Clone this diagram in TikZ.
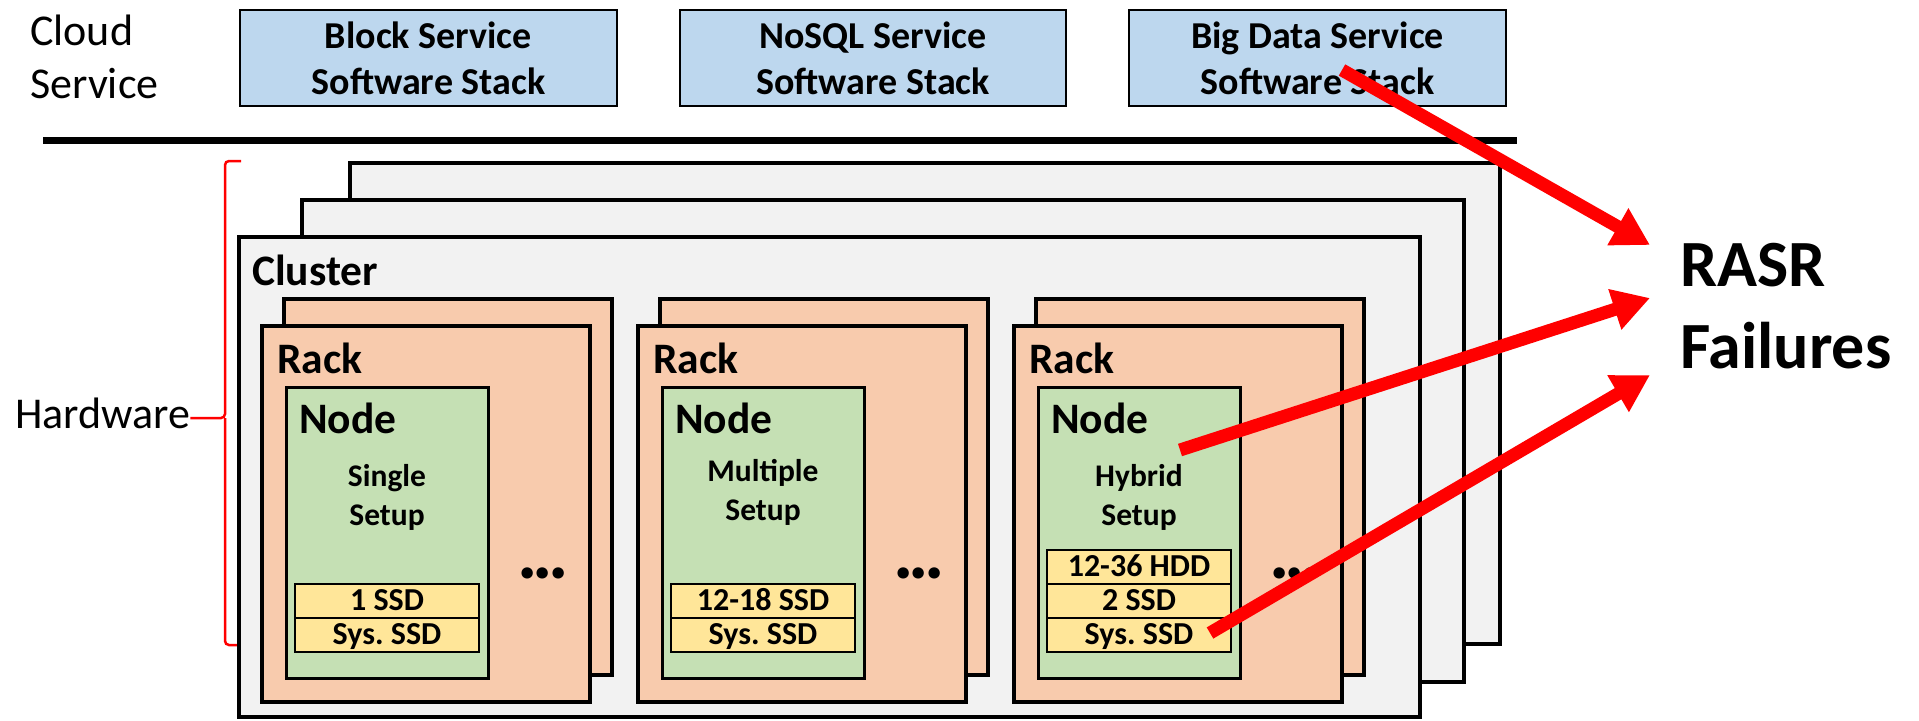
\documentclass[tikz,border=0pt]{standalone}
\usepackage{fontspec}
\setmainfont{Carlito}
\usetikzlibrary{arrows.meta}
\definecolor{svcblue}{HTML}{BDD7EE}
\definecolor{clgray}{HTML}{F2F2F2}
\definecolor{rackor}{HTML}{F8CBAD}
\definecolor{nodegr}{HTML}{C5E0B4}
\definecolor{diskyl}{HTML}{FFE699}
\definecolor{arrred}{HTML}{FF0000}
\begin{document}
\frenchspacing
\begin{tikzpicture}[x=1pt,y=-1pt,
  box/.style={draw=black, inner sep=0pt, outer sep=0pt, anchor=north west},
  svcbox/.style={box, fill=svcblue, line width=2.8pt, minimum height=96pt, align=center, font=\fontsize{38}{46}\selectfont\bfseries},
  clbox/.style={box, fill=clgray, line width=4pt},
  rackbox/.style={box, fill=rackor, line width=4pt, minimum width=328pt, minimum height=376pt},
  hostbox/.style={box, fill=nodegr, line width=3pt, minimum width=202pt, minimum height=291pt},
  diskbox/.style={box, fill=diskyl, line width=2pt, minimum width=184pt, minimum height=34pt, text height=22pt, text depth=4pt, font=\fontsize{32}{32}\selectfont\bfseries},
  plainlbl/.style={inner sep=0pt, anchor=base west, font=\fontsize{44}{53}\selectfont},
  biglbl/.style={inner sep=0pt, anchor=base west, font=\fontsize{43.5}{43.5}\selectfont\bfseries},
  setuplbl/.style={inner sep=0pt, anchor=base, font=\fontsize{31.5}{31.5}\selectfont\bfseries},
  dotslbl/.style={inner sep=0pt, font=\fontsize{76}{76}\selectfont\bfseries},
  rasrlbl/.style={inner sep=0pt, anchor=base west, font=\fontsize{66}{66}\selectfont\bfseries},
  redarrow/.style={draw=arrred, line width=13pt, -{Triangle[length=37pt,width=40pt]}},
  bracestyle/.style={draw=arrred, line width=2.5pt, rounded corners=4pt}
]
\useasboundingbox (0,0) rectangle (1919,720);

% Cloud service row
\node[plainlbl] (cloud1) at (30,45) {Cloud};
\node[plainlbl] (cloud2) at (30,98) {Service};
\node[svcbox, minimum width=377pt] (block) at (240,10) {Block Service\\Software Stack};
\node[svcbox, minimum width=386pt] (nosql) at (680,10) {NoSQL Service\\Software Stack};
\node[svcbox, minimum width=377pt] (bigdata) at (1129,10) {Big Data Service\\Software Stack};

% separator
\coordinate (sepL) at (43,140);
\coordinate (sepR) at (1517,140);
\draw[line width=7pt] (sepL) -- (sepR);

% Hardware brace
\node[plainlbl] (hw) at (15,428) {Hardware};
\coordinate (brT) at (241,161);
\coordinate (brB) at (241,645);
\coordinate (brM) at (225,418);
\draw[bracestyle] (brT) -- (225,161) -- (brM) -- (hw.east |- brM);
\draw[bracestyle] (brM) -- (225,645) -- (brB);

% clusters
\node[clbox, minimum width=1150pt, minimum height=481pt] (cl3) at (350,163) {};
\node[clbox, minimum width=1162pt, minimum height=482pt] (cl2) at (302,200) {};
\node[clbox, minimum width=1181pt, minimum height=480pt] (cl1) at (239,237) {};
\node[biglbl] (cltxt) at (252,285) {Cluster};

% racks
\foreach \i/\f in {1/262,2/638,3/1014}{
  \node[rackbox] (rackb\i) at (\f+22,299) {};
  \node[rackbox] (rackf\i) at (\f,326) {};
  \node[biglbl] (racktxt\i) at (\f+15,373) {Rack};
  \node[hostbox] (host\i) at (\f+24,387) {};
  \node[biglbl] (hosttxt\i) at (\f+37,433) {Node};
  \node[dotslbl] (dots\i) at (\f+281,573) {.\kern-5pt.\kern-5pt.};
}

% setup labels
\node[setuplbl] (s1a) at (387,486) {Single};
\node[setuplbl] (s1b) at (387,525) {Setup};
\node[setuplbl] (s2a) at (763,481) {Multiple};
\node[setuplbl] (s2b) at (763,520) {Setup};
\node[setuplbl] (s3a) at (1139,486) {Hybrid};
\node[setuplbl] (s3b) at (1139,525) {Setup};

% disks
\node[diskbox] (d1a) at (295,584) {1 SSD};
\node[diskbox] (d1b) at (295,618) {Sys. SSD};
\node[diskbox] (d2a) at (671,584) {12-18 SSD};
\node[diskbox] (d2b) at (671,618) {Sys. SSD};
\node[diskbox] (d3a) at (1047,550) {12-36 HDD};
\node[diskbox] (d3b) at (1047,584) {2 SSD};
\node[diskbox] (d3c) at (1047,618) {Sys. SSD};

% RASR
\node[rasrlbl] (rasr1) at (1680,286) {RASR};
\node[rasrlbl] (rasr2) at (1680,368) {Failures};

% arrows
\coordinate (a1s) at (1342,70);
\coordinate (a1e) at (1650,245);
\coordinate (a2s) at (1180,450);
\coordinate (a2e) at (1650,298);
\coordinate (a3s) at (1210,633);
\coordinate (a3e) at (1650,375);
\draw[redarrow] (a1s) -- (a1e);
\draw[redarrow] (a2s) -- (a2e);
\draw[redarrow] (a3s) -- (a3e);
\end{tikzpicture}
\end{document}
